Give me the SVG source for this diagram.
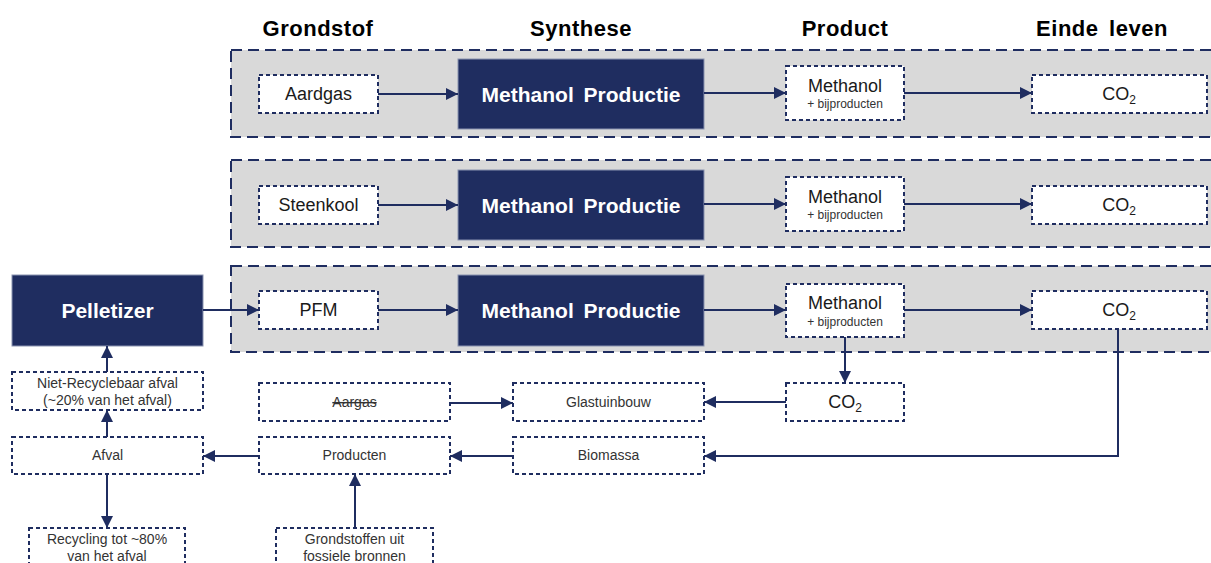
<svg xmlns="http://www.w3.org/2000/svg" width="1211" height="563" viewBox="0 0 1211 563">
<defs>
<style>
.band{fill:#d9d9d9;stroke:#1f2d60;stroke-width:2;stroke-dasharray:11 6}
.box{fill:#fff;stroke:#1f2d60;stroke-width:2;stroke-dasharray:4 3}
.solid{fill:#1f2d60;stroke:#8a93b0;stroke-width:1}
.hdr{font-family:"Liberation Sans",Arial,sans-serif;font-weight:bold;font-size:22px;fill:#000;text-anchor:middle;letter-spacing:0.5px;word-spacing:4px}
.big{font-family:"Liberation Sans",Arial,sans-serif;font-weight:bold;font-size:21px;fill:#fff;text-anchor:middle;word-spacing:4px}
.lbl{font-family:"Liberation Sans",Arial,sans-serif;font-size:18px;fill:#1a1a1a;text-anchor:middle}
.sm{font-family:"Liberation Sans",Arial,sans-serif;font-size:14px;fill:#333;text-anchor:middle}
.xs{font-family:"Liberation Sans",Arial,sans-serif;font-size:12px;fill:#333;text-anchor:middle}
.conn path{fill:none;stroke:#1f2d60;stroke-width:2}
</style>
<marker id="ah" viewBox="0 0 10 10" refX="10" refY="5" markerWidth="6" markerHeight="6" orient="auto" markerUnits="strokeWidth">
<path d="M0,0 L10,5 L0,10 z" fill="#1f2d60"/>
</marker>
</defs>

<g id="headers">
<text class="hdr" x="318" y="36">Grondstof</text>
<text class="hdr" x="581" y="36">Synthese</text>
<text class="hdr" x="845" y="36">Product</text>
<text class="hdr" x="1102" y="36">Einde leven</text>
</g>

<g id="band1"><rect class="band" x="231" y="50" width="990" height="87"/></g>
<g id="band2"><rect class="band" x="231" y="160" width="990" height="87"/></g>
<g id="band3"><rect class="band" x="231" y="266" width="990" height="86"/></g>

<g id="aardgas"><rect class="box" x="259" y="75" width="119" height="38"/><text class="lbl" x="318.5" y="100">Aardgas</text></g>
<g id="mp1"><rect class="solid" x="458" y="59" width="246" height="70"/><text class="big" x="581" y="102">Methanol Productie</text></g>
<g id="meth1"><rect class="box" x="786" y="66" width="118" height="54"/><text class="lbl" x="845" y="92">Methanol</text><text class="xs" x="845" y="108">+ bijproducten</text></g>
<g id="co2a"><rect class="box" x="1032" y="75" width="175" height="38"/><text class="lbl" x="1119" y="100">CO<tspan font-size="12" dy="4">2</tspan></text></g>

<g id="steenkool"><rect class="box" x="259" y="186" width="119" height="38"/><text class="lbl" x="318.5" y="211">Steenkool</text></g>
<g id="mp2"><rect class="solid" x="458" y="170" width="246" height="70"/><text class="big" x="581" y="213">Methanol Productie</text></g>
<g id="meth2"><rect class="box" x="786" y="177" width="118" height="54"/><text class="lbl" x="845" y="203">Methanol</text><text class="xs" x="845" y="219">+ bijproducten</text></g>
<g id="co2b"><rect class="box" x="1032" y="186" width="175" height="38"/><text class="lbl" x="1119" y="211">CO<tspan font-size="12" dy="4">2</tspan></text></g>

<g id="pelletizer"><rect class="solid" x="12" y="275" width="191" height="71"/><text class="big" x="107.5" y="318" font-size="22">Pelletizer</text></g>
<g id="pfm"><rect class="box" x="259" y="291" width="119" height="38"/><text class="lbl" x="318.5" y="316">PFM</text></g>
<g id="mp3"><rect class="solid" x="458" y="275" width="246" height="71"/><text class="big" x="581" y="318">Methanol Productie</text></g>
<g id="meth3"><rect class="box" x="786" y="284" width="118" height="53"/><text class="lbl" x="845" y="309">Methanol</text><text class="xs" x="845" y="326">+ bijproducten</text></g>
<g id="co2c"><rect class="box" x="1032" y="291" width="175" height="38"/><text class="lbl" x="1119" y="316">CO<tspan font-size="12" dy="4">2</tspan></text></g>

<g id="nietrecycle"><rect class="box" x="12" y="372" width="191" height="38"/><text class="sm" x="107.5" y="388">Niet-Recyclebaar afval</text><text class="sm" x="107.5" y="405">(~20% van het afval)</text></g>
<g id="aargas"><rect class="box" x="259" y="383" width="191" height="38"/><text class="sm" x="354.5" y="407" text-decoration="line-through">Aargas</text></g>
<g id="glastuinbouw"><rect class="box" x="513" y="383" width="191" height="38"/><text class="sm" x="608.5" y="407">Glastuinbouw</text></g>
<g id="co2d"><rect class="box" x="786" y="383" width="118" height="38"/><text class="lbl" x="845" y="408">CO<tspan font-size="12" dy="4">2</tspan></text></g>

<g id="afval"><rect class="box" x="12" y="437" width="191" height="37"/><text class="sm" x="107.5" y="460">Afval</text></g>
<g id="producten"><rect class="box" x="259" y="437" width="191" height="37"/><text class="sm" x="354.5" y="460">Producten</text></g>
<g id="biomassa"><rect class="box" x="513" y="437" width="191" height="37"/><text class="sm" x="608.5" y="460">Biomassa</text></g>

<g id="recycling"><rect class="box" x="29" y="528" width="156" height="45"/><text class="sm" x="107" y="544">Recycling tot ~80%</text><text class="sm" x="107" y="561">van het afval</text></g>
<g id="grondstoffen"><rect class="box" x="276" y="528" width="157" height="45"/><text class="sm" x="354.5" y="544">Grondstoffen uit</text><text class="sm" x="354.5" y="561">fossiele bronnen</text></g>

<g id="connectors" class="conn">
<path d="M378,94 H458" marker-end="url(#ah)"/>
<path d="M704,93 H786" marker-end="url(#ah)"/>
<path d="M904,93 H1032" marker-end="url(#ah)"/>
<path d="M378,205 H458" marker-end="url(#ah)"/>
<path d="M704,204 H786" marker-end="url(#ah)"/>
<path d="M904,204 H1032" marker-end="url(#ah)"/>
<path d="M203,310 H259" marker-end="url(#ah)"/>
<path d="M378,310 H458" marker-end="url(#ah)"/>
<path d="M704,310 H786" marker-end="url(#ah)"/>
<path d="M904,310 H1032" marker-end="url(#ah)"/>
<path d="M845,337 V383" marker-end="url(#ah)"/>
<path d="M1118,329 V456 H704" marker-end="url(#ah)"/>
<path d="M786,402 H704" marker-end="url(#ah)"/>
<path d="M450,403 H513" marker-end="url(#ah)"/>
<path d="M513,456 H450" marker-end="url(#ah)"/>
<path d="M259,456 H203" marker-end="url(#ah)"/>
<path d="M107,437 V410" marker-end="url(#ah)"/>
<path d="M107,372 V346" marker-end="url(#ah)"/>
<path d="M107,474 V528" marker-end="url(#ah)"/>
<path d="M355,528 V474" marker-end="url(#ah)"/>
</g>
</svg>
